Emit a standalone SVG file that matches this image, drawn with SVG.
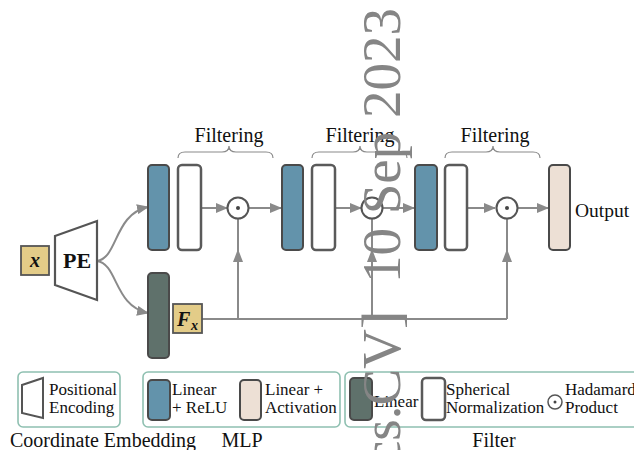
<svg xmlns="http://www.w3.org/2000/svg" width="634" height="450" viewBox="0 0 634 450" font-family="Liberation Serif, Times New Roman, serif">
  <style>
    text { fill: #111; }
    .lbl { font-size: 17px; }
    .cap { font-size: 20px; }
    .bar-lin { fill: #6393AB; stroke: #4a4a4a; stroke-width: 2; }
    .bar-norm { fill: #ffffff; stroke: #5a5a5a; stroke-width: 2.5; }
    .bar-filt { fill: #5F716B; stroke: #4a4a4a; stroke-width: 2; }
    .bar-out { fill: #EDE0D5; stroke: #4a4a4a; stroke-width: 2; }
    .in-box { fill: #E3CC88; stroke: #555; stroke-width: 1.8; }
    .wire { fill: none; stroke: #8a8a8a; stroke-width: 2; }
    .brace { fill: none; stroke: #8a8a8a; stroke-width: 1.2; }
    .had { fill: #fff; stroke: #555; stroke-width: 2; }
    .legend { fill: #fff; stroke: #8FC0B1; stroke-width: 1.6; }
    .mark { font-size: 55px; fill: #858585; }
  </style>
  <defs>
    <marker id="arrow" markerUnits="userSpaceOnUse" markerWidth="12" markerHeight="10" refX="11" refY="5" orient="auto">
      <path d="M0,0 L12,5 L0,10 Z" fill="#8a8a8a"/>
    </marker>
  </defs>

  <rect width="634" height="450" fill="#ffffff"/>

  <!-- connectors -->
  <g id="connectors">
    <path class="wire" d="M97,261 C118,258 114,214 148,207" marker-end="url(#arrow)"/>
    <path class="wire" d="M97,261 C118,264 114,306 148,313" marker-end="url(#arrow)"/>
    <line class="wire" x1="201" y1="208" x2="227" y2="208" marker-end="url(#arrow)"/>
    <line class="wire" x1="249" y1="208" x2="281" y2="208" marker-end="url(#arrow)"/>
    <line class="wire" x1="335" y1="208" x2="361" y2="208" marker-end="url(#arrow)"/>
    <line class="wire" x1="383" y1="208" x2="414" y2="208" marker-end="url(#arrow)"/>
    <line class="wire" x1="467" y1="208" x2="495" y2="208" marker-end="url(#arrow)"/>
    <line class="wire" x1="517" y1="208" x2="548" y2="208" marker-end="url(#arrow)"/>
    <!-- filter feature bus -->
    <polyline class="wire" points="202,319 507,319"/>
    <line class="wire" x1="238" y1="319" x2="238" y2="219"/>
    <line class="wire" x1="372" y1="319" x2="372" y2="219"/>
    <line class="wire" x1="507" y1="319" x2="507" y2="219"/>
    <path d="M238,249 L243,262 L233,262 Z" fill="#8a8a8a"/>
    <path d="M372,249 L377,262 L367,262 Z" fill="#8a8a8a"/>
    <path d="M507,249 L512,262 L502,262 Z" fill="#8a8a8a"/>
    <!-- filtering braces -->
    <path class="brace" d="M178,158 Q178,152 185,152 L222,152 Q229,152 229,146 Q229,152 236,152 L266,152 Q273,152 273,158"/>
    <path class="brace" d="M312,158 Q312,152 319,152 L353,152 Q360,152 360,146 Q360,152 367,152 L400,152 Q407,152 407,158"/>
    <path class="brace" d="M445,158 Q445,152 452,152 L486,152 Q493,152 493,146 Q493,152 500,152 L533,152 Q540,152 540,158"/>
  </g>

  <!-- coordinate input and embedding -->
  <g id="input-x">
    <rect class="in-box" x="21" y="246" width="28" height="29"/>
    <text x="35" y="267" text-anchor="middle" font-size="20" font-weight="bold" font-style="italic">x</text>
  </g>
  <g id="pe">
    <path d="M55,236 L97,221 L97,300 L55,285 Z" fill="#fff" stroke="#555" stroke-width="2.2"/>
    <text x="77" y="268" text-anchor="middle" font-size="22" font-weight="bold">PE</text>
  </g>

  <!-- MLP / filter blocks -->
  <g id="linear1"><rect class="bar-lin" x="148" y="165" width="21" height="85" rx="4"/></g>
  <g id="norm1"><rect class="bar-norm" x="178" y="165" width="23" height="85" rx="4"/></g>
  <g id="had1">
    <circle class="had" cx="238" cy="208" r="10.5"/>
    <circle cx="238" cy="208" r="2" fill="#444"/>
  </g>
  <g id="linear2"><rect class="bar-lin" x="282" y="165" width="21" height="85" rx="4"/></g>
  <g id="norm2"><rect class="bar-norm" x="312" y="165" width="23" height="85" rx="4"/></g>
  <g id="had2">
    <circle class="had" cx="372" cy="208" r="10.5"/>
    <circle cx="372" cy="208" r="2" fill="#444"/>
  </g>
  <g id="linear3"><rect class="bar-lin" x="415" y="165" width="22" height="85" rx="4"/></g>
  <g id="norm3"><rect class="bar-norm" x="445" y="165" width="22" height="85" rx="4"/></g>
  <g id="had3">
    <circle class="had" cx="507" cy="208" r="10.5"/>
    <circle cx="507" cy="208" r="2" fill="#444"/>
  </g>
  <g id="output">
    <rect class="bar-out" x="549" y="165" width="21" height="85" rx="4"/>
    <text x="575" y="217" font-size="19.5">Output</text>
  </g>
  <g id="filter-linear"><rect class="bar-filt" x="148" y="273" width="21" height="85" rx="4"/></g>
  <g id="fx">
    <rect class="in-box" x="173" y="304" width="29" height="29"/>
    <text x="177" y="326" font-size="20" font-weight="bold" font-style="italic">F</text>
    <text x="191" y="330" font-size="14" font-weight="bold" font-style="italic">x</text>
  </g>

  <!-- filtering labels -->
  <g id="filtering-labels">
    <text x="229" y="142" text-anchor="middle" font-size="20">Filtering</text>
    <text x="360" y="142" text-anchor="middle" font-size="20">Filtering</text>
    <text x="495" y="142" text-anchor="middle" font-size="20">Filtering</text>
  </g>

  <!-- legend -->
  <g id="legend-embedding">
    <rect class="legend" x="18" y="372" width="102" height="55" rx="5"/>
    <path d="M22,385 L43,378 L43,418 L22,413 Z" fill="#fff" stroke="#555" stroke-width="2"/>
    <text class="lbl" x="49" y="395">Positional</text>
    <text class="lbl" x="49" y="413">Encoding</text>
    <text class="cap" x="10" y="447">Coordinate Embedding</text>
  </g>
  <g id="legend-mlp">
    <rect class="legend" x="143" y="372" width="197" height="55" rx="5"/>
    <rect class="bar-lin" x="148" y="380" width="22" height="40" rx="4"/>
    <text class="lbl" x="172" y="395">Linear</text>
    <text class="lbl" x="172" y="413">+ ReLU</text>
    <rect class="bar-out" x="240" y="380" width="21" height="40" rx="4"/>
    <text class="lbl" x="265" y="395">Linear +</text>
    <text class="lbl" x="265" y="413">Activation</text>
    <text class="cap" x="242" y="447" text-anchor="middle">MLP</text>
  </g>
  <g id="legend-filter">
    <rect class="legend" x="345" y="372" width="300" height="55" rx="5"/>
    <rect class="bar-filt" x="350" y="378" width="22" height="42" rx="4"/>
    <text class="lbl" x="374" y="407">Linear</text>
    <rect class="bar-norm" x="422" y="378" width="23" height="42" rx="4"/>
    <text class="lbl" x="446" y="395">Spherical</text>
    <text class="lbl" x="446" y="413">Normalization</text>
    <circle cx="555" cy="402" r="7" fill="#fff" stroke="#555" stroke-width="1.5"/>
    <circle cx="555" cy="402" r="1.5" fill="#444"/>
    <text class="lbl" x="565" y="395">Hadamard</text>
    <text class="lbl" x="565" y="413">Product</text>
    <text class="cap" x="494" y="447" text-anchor="middle">Filter</text>
  </g>

  <!-- archive stamp along the margin -->
  <text class="mark" transform="translate(400,8) rotate(-90)" text-anchor="end">[cs.CV]<tspan dx="14"> 10 Sep 2023</tspan></text>
</svg>
